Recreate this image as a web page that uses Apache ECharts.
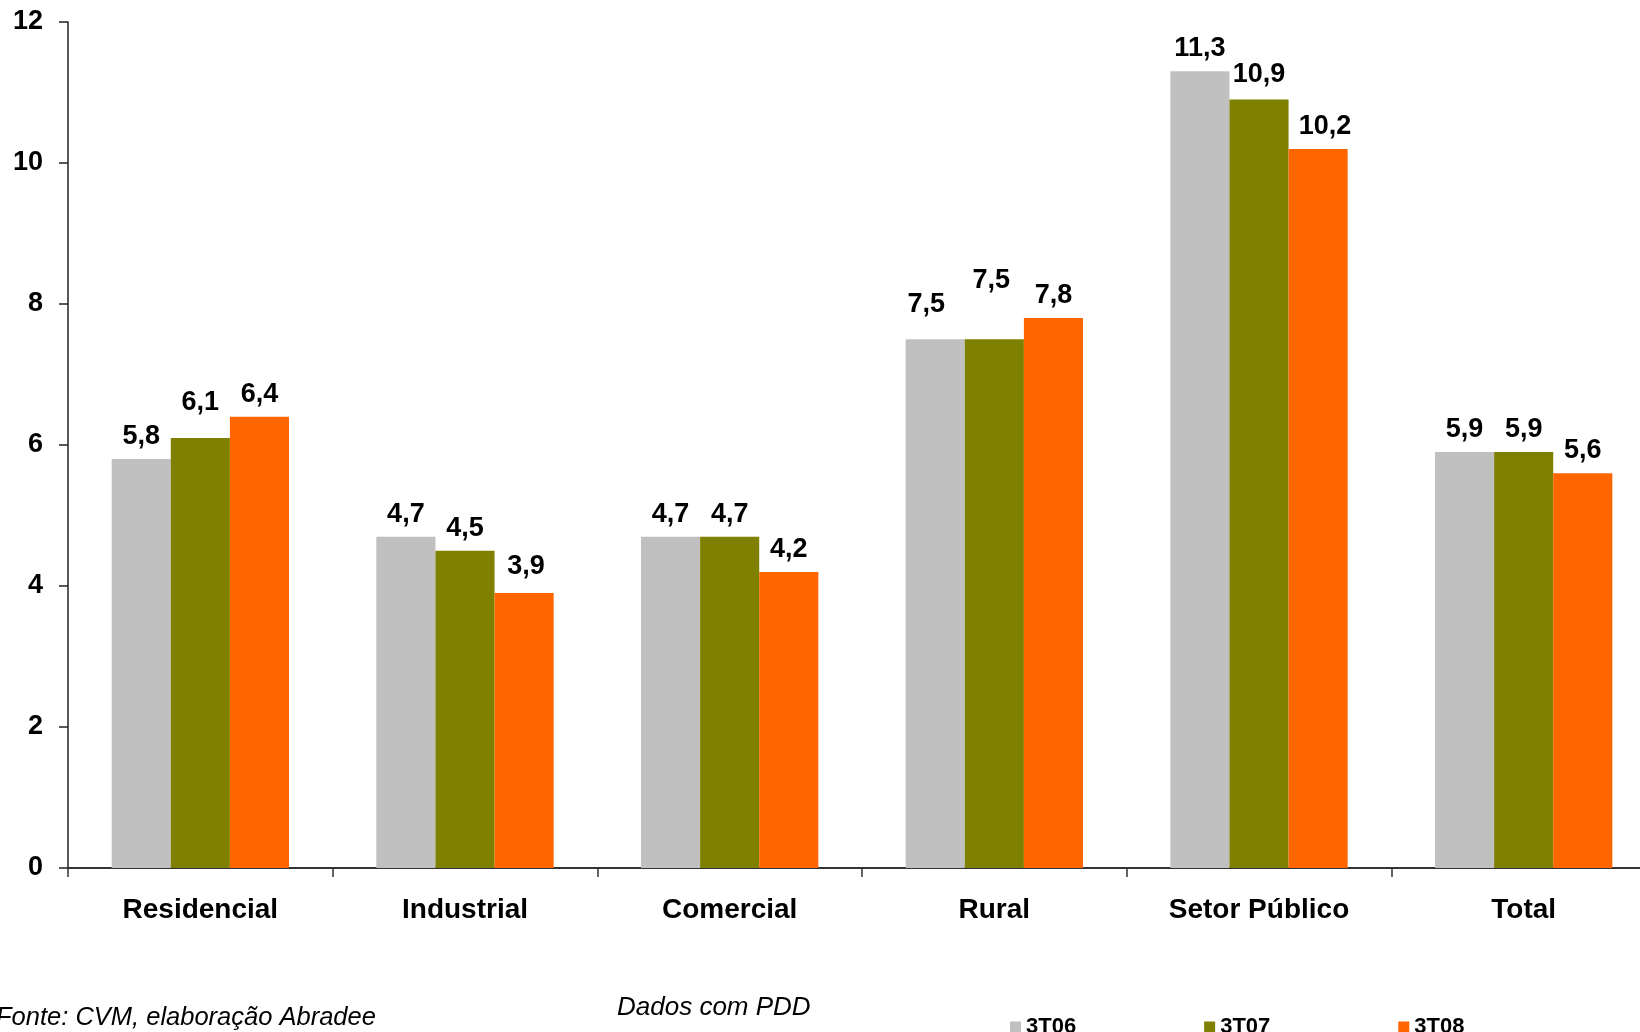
<!DOCTYPE html>
<html>
<head>
<meta charset="utf-8">
<script src="https://cdn.jsdelivr.net/npm/echarts@6/dist/echarts.min.js"></script>
<style>
  html, body { margin: 0; padding: 0; background: #fff; }
  #chart { width: 1640px; height: 1032px; }
</style>
</head>
<body>
<div id="chart"></div>
<script>
var categories = ['Residencial', 'Industrial', 'Comercial', 'Rural', 'Setor Público', 'Total'];
var periods = ['3T06', '3T07', '3T08'];
var values3T06 = [5.8, 4.7, 4.7, 7.5, 11.3, 5.9];
var values3T07 = [6.1, 4.5, 4.7, 7.5, 10.9, 5.9];
var values3T08 = [6.4, 3.9, 4.2, 7.8, 10.2, 5.6];
var yTicks = [0, 2, 4, 6, 8, 10, 12];

var colors = ['#C0C0C0', '#808000', '#FF6600'];
var font = 'Liberation Sans, Arial, sans-serif';

// labels in the original were nudged by hand here and there
var labelNudge = {
  '1-0': [0, -13],
  '0-3': [-9, -12],
  '1-3': [-3, -36],
  '2-1': [2, -4],
  '1-4': [0, -3],
  '2-4': [7, 0]
};

var chartDom = document.getElementById('chart');
var myChart = echarts.init(chartDom);
var option;

function makeSeries(name, vals, s) {
  return {
    name: name,
    type: 'bar',
    barGap: 0,
    barCategoryGap: '33%',
    itemStyle: { color: colors[s] },
    label: {
      show: true,
      position: 'top',
      distance: 9,
      color: '#000',
      fontFamily: font,
      fontWeight: 'bold',
      fontSize: 27,
      formatter: function (p) { return String(p.value).replace('.', ','); }
    },
    data: vals.map(function (v, i) {
      var n = labelNudge[s + '-' + i];
      return n ? { value: v, label: { offset: n } } : v;
    })
  };
}

option = {
  animation: false,
  backgroundColor: '#fff',
  grid: {
    left: 68,
    top: 22,
    bottom: 164,
    right: -16,
    outerBoundsMode: 'none'
  },
  legend: {
    data: periods,
    left: 1005,
    top: 1011,
    itemWidth: 11,
    itemHeight: 11,
    itemGap: 128,
    icon: 'rect',
    textStyle: {
      fontFamily: font,
      fontWeight: 'bold',
      fontSize: 22,
      color: '#000'
    }
  },
  xAxis: {
    type: 'category',
    data: categories,
    axisLine: { lineStyle: { color: '#333', width: 2 } },
    axisTick: { show: true, length: 9, lineStyle: { color: '#333', width: 1.5 } },
    axisLabel: {
      margin: 28,
      color: '#000',
      fontFamily: font,
      fontWeight: 'bold',
      fontSize: 28
    }
  },
  yAxis: {
    type: 'value',
    min: yTicks[0],
    max: yTicks[yTicks.length - 1],
    interval: 2,
    splitLine: { show: false },
    axisLine: { show: true, lineStyle: { color: '#222', width: 1.5 } },
    axisTick: { show: true, length: 9, lineStyle: { color: '#222', width: 1.5 } },
    axisLabel: {
      margin: 25,
      color: '#000',
      fontFamily: font,
      fontWeight: 'bold',
      fontSize: 27
    }
  },
  graphic: [
    {
      type: 'text',
      left: -4,
      top: 1005,
      style: {
        text: 'Fonte: CVM, elaboração Abradee',
        fontFamily: font,
        fontStyle: 'italic',
        fontSize: 25.5,
        fill: '#000'
      }
    },
    {
      type: 'text',
      left: 617,
      top: 995,
      style: {
        text: 'Dados com PDD',
        fontFamily: font,
        fontStyle: 'italic',
        fontSize: 26,
        fill: '#000'
      }
    }
  ],
  series: [
    makeSeries(periods[0], values3T06, 0),
    makeSeries(periods[1], values3T07, 1),
    makeSeries(periods[2], values3T08, 2)
  ]
};

option && myChart.setOption(option);
</script>
</body>
</html>
